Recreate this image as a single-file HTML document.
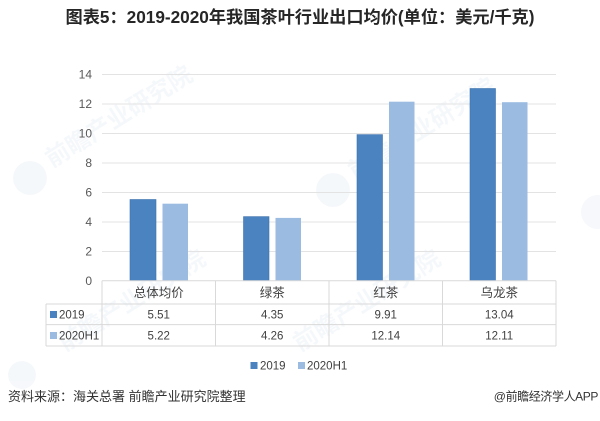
<!DOCTYPE html>
<html><head><meta charset="utf-8"><style>
html,body{margin:0;padding:0;background:#fff;}
svg{display:block;}
text{font-family:"Liberation Sans","Noto Sans CJK SC",sans-serif;}
</style></head><body>
<svg width="600" height="421" viewBox="0 0 600 421" xmlns="http://www.w3.org/2000/svg">
<rect width="600" height="421" fill="#fff"/>
<!-- watermarks -->
<g fill="#d5e0ee" opacity="0.22" font-size="24" font-weight="bold">
  <circle cx="30" cy="178" r="17"/>
  <text x="52" y="168" transform="rotate(-32 52 168)">前瞻产业研究院</text>
  <circle cx="333" cy="190" r="17"/>
  <text x="355" y="180" transform="rotate(-32 355 180)">前瞻产业研究院</text>
  <circle cx="598" cy="212" r="17"/>
  <circle cx="22" cy="375" r="14"/>
  <text x="65" y="352" transform="rotate(-32 65 352)">前瞻产业研究院</text>
  <text x="300" y="352" transform="rotate(-32 300 352)">前瞻产业研究院</text>
</g>
<!-- title -->
<text x="300" y="23" text-anchor="middle" font-size="17.2" font-weight="bold" fill="#262626">图表5：2019-2020年我国茶叶行业出口均价(单位：美元/千克)</text>
<!-- gridlines -->
<g stroke="#e3e3e3" stroke-width="1">
  <line x1="102" x2="556" y1="74.5" y2="74.5"/>
  <line x1="102" x2="556" y1="104" y2="104"/>
  <line x1="102" x2="556" y1="133.5" y2="133.5"/>
  <line x1="102" x2="556" y1="163" y2="163"/>
  <line x1="102" x2="556" y1="192.5" y2="192.5"/>
  <line x1="102" x2="556" y1="222" y2="222"/>
  <line x1="102" x2="556" y1="251.5" y2="251.5"/>
</g>
<!-- y labels -->
<g font-size="12" fill="#595959" text-anchor="end">
  <text x="92" y="78.5">14</text>
  <text x="92" y="108">12</text>
  <text x="92" y="137.5">10</text>
  <text x="92" y="167">8</text>
  <text x="92" y="196.5">6</text>
  <text x="92" y="226">4</text>
  <text x="92" y="255.5">2</text>
  <text x="92" y="285">0</text>
</g>
<!-- bars -->
<g fill="#4a83c0" stroke="#3f73ad" stroke-width="0.6">
  <rect x="130" y="199.5" width="26" height="81.2"/>
  <rect x="243.5" y="216.6" width="25.5" height="64.1"/>
  <rect x="357" y="134.6" width="25.5" height="146.1"/>
  <rect x="470" y="88.5" width="25.5" height="192.2"/>
</g>
<g fill="#9bbbe1">
  <rect x="162.5" y="203.7" width="25.5" height="77"/>
  <rect x="275.5" y="217.9" width="25.5" height="62.8"/>
  <rect x="389" y="101.7" width="25.5" height="179"/>
  <rect x="502" y="102.2" width="25.5" height="178.5"/>
</g>
<!-- table -->
<g stroke="#d9d9d9" stroke-width="1" fill="none">
  <line x1="102" x2="556" y1="280.7" y2="280.7"/>
  <line x1="46" x2="556" y1="304" y2="304"/>
  <line x1="46" x2="556" y1="324.6" y2="324.6"/>
  <line x1="46" x2="556" y1="346" y2="346"/>
  <line x1="46" x2="46" y1="304" y2="346"/>
  <line x1="102" x2="102" y1="280.7" y2="346"/>
  <line x1="215.5" x2="215.5" y1="280.7" y2="346"/>
  <line x1="329" x2="329" y1="280.7" y2="346"/>
  <line x1="442.5" x2="442.5" y1="280.7" y2="346"/>
  <line x1="556" x2="556" y1="280.7" y2="346"/>
</g>
<g font-size="12.5" fill="#404040" text-anchor="middle">
  <text x="158.75" y="297">总体均价</text>
  <text x="272.25" y="297">绿茶</text>
  <text x="385.75" y="297">红茶</text>
  <text x="499.25" y="297">乌龙茶</text>
</g>
<g font-size="11.5" fill="#404040" text-anchor="middle">
  <text x="158.75" y="318.5">5.51</text>
  <text x="272.25" y="318.5">4.35</text>
  <text x="385.75" y="318.5">9.91</text>
  <text x="499.25" y="318.5">13.04</text>
  <text x="158.75" y="339.5">5.22</text>
  <text x="272.25" y="339.5">4.26</text>
  <text x="385.75" y="339.5">12.14</text>
  <text x="499.25" y="339.5">12.11</text>
</g>
<rect x="50" y="311" width="7" height="7" fill="#4a83c0"/>
<text x="59" y="318.5" font-size="11.5" fill="#404040">2019</text>
<rect x="50" y="332" width="7" height="7" fill="#9bbbe1"/>
<text x="59" y="339.5" font-size="11.5" fill="#404040">2020H1</text>
<!-- legend -->
<rect x="250.5" y="362" width="7" height="7" fill="#4a83c0"/>
<text x="260" y="369.5" font-size="11.5" fill="#404040">2019</text>
<rect x="298" y="362" width="7" height="7" fill="#9bbbe1"/>
<text x="307" y="369.5" font-size="11.5" fill="#404040">2020H1</text>
<!-- footer -->
<text x="8" y="401" font-size="13" fill="#333">资料来源：海关总署 前瞻产业研究院整理</text>
<text x="598" y="400.5" font-size="12" fill="#333" text-anchor="end" letter-spacing="-0.4">@前瞻经济学人APP</text>
</svg>
</body></html>
